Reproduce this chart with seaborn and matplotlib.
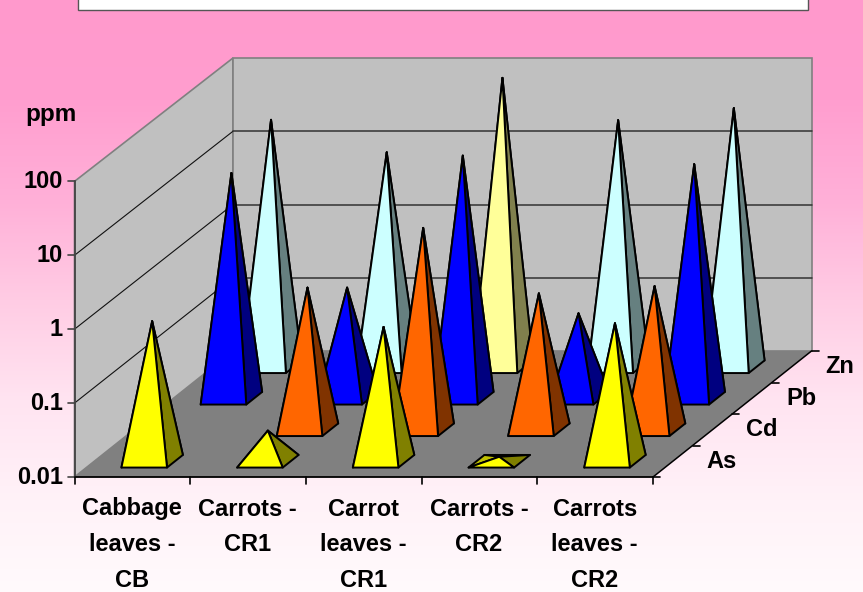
import numpy as np
import seaborn as sns
import matplotlib.pyplot as plt
from matplotlib.patches import Polygon, Rectangle

# Heavy metals by sample, log axis
samples = ["Cabbage\nleaves -\nCB", "Carrots -\nCR1", "Carrot\nleaves -\nCR1", "Carrots -\nCR2", "Carrots\nleaves -\nCR2"]
metals = ["As", "Cd", "Pb", "Zn"]
as_ppm = [0.79, 0.026, 0.66, 0.0115, 0.74]
cd_ppm = [None, 0.85, 5.5, 0.71, 0.89]
pb_ppm = [11.6, 0.32, 20, 0.143, 15.3]
zn_ppm = [23.3, 8.4, 87, 23, 33.6]
values = [as_ppm, cd_ppm, pb_ppm, zn_ppm]
y_ticks = [0.01, 0.1, 1, 10, 100]
y_labels = ["0.01", "0.1", "1", "10", "100"]

fronts = sns.color_palette(["#FFFF00", "#FF6600", "#0000FF", "#CCFFFF"])
sides = sns.color_palette(["#808000", "#803300", "#000080", "#668080"])
odd_front, odd_side = "#FFFF99", "#80804D"  # Zn bar of carrot leaves CR1

sns.set_theme(style="white")
plt.rcParams["font.family"] = ["Liberation Sans", "DejaVu Sans"]

fig = plt.figure(figsize=(8.63, 5.92), dpi=100)
ax = fig.add_axes([0, 0, 1, 1])
ax.axis("off")

# oblique box: cat along x, depth back into the page, log10 value up
x0, y0 = 74.5, 477
cat_w = (653 - x0) / len(samples)
dep_x, dep_y = 158.5 / len(metals), -126 / len(metals)


def proj(cat, dep, val):
    d = dep / len(metals)
    scale = 73.9 - 0.65 * d
    dec = np.log10(val) - np.log10(y_ticks[0])
    return (x0 + cat * cat_w + dep * dep_x, y0 + dep * dep_y - dec * scale)


# background, pink fading down
rows = np.arange(592)
green = np.interp(rows, [0, 100, 200, 300, 400, 500, 592], [153, 158, 176, 204, 228, 242, 250]) / 255
blue = np.interp(rows, [0, 100, 200, 300, 400, 500, 592], [204, 207, 216, 228, 241, 248, 252]) / 255
grad = np.dstack([np.ones(592), green, blue]).reshape(592, 1, 3)
ax.imshow(grad, extent=[0, 863, 592, 0], aspect="auto", zorder=0)
ax.set_xlim(0, 863)
ax.set_ylim(592, 0)

# title box, cut off at the top of the picture
ax.add_patch(Rectangle((77.5, -5), 730.5, 15, fc="white", ec="#555555", lw=1, zorder=1))

nc, nd = len(samples), len(metals)
lo, top = y_ticks[0], y_ticks[-1]
wall_edge = "#808080"
ax.add_patch(Polygon([proj(0, 0, lo), proj(0, nd, lo), proj(0, nd, top), proj(0, 0, top)], fc="#C0C0C0", ec=wall_edge, lw=1.2, zorder=2))
ax.add_patch(Polygon([proj(0, nd, lo), proj(nc, nd, lo), proj(nc, nd, top), proj(0, nd, top)], fc="#C0C0C0", ec=wall_edge, lw=1.2, zorder=2))
ax.add_patch(Polygon([proj(0, 0, lo), proj(nc, 0, lo), proj(nc, nd, lo), proj(0, nd, lo)], fc="#808080", ec="none", zorder=2))

# grid on both walls
for t in y_ticks[1:-1]:
    a, b, c = proj(0, 0, t), proj(0, nd, t), proj(nc, nd, t)
    ax.plot([a[0], b[0]], [a[1], b[1]], color="#111111", lw=0.8, zorder=3)
    ax.plot([b[0], c[0]], [b[1], c[1]], color="#333333", lw=1.1, zorder=3)

# axis lines and ticks
ax.plot([x0, x0], [proj(0, 0, lo)[1], proj(0, 0, top)[1]], color="#444444", lw=1.3, zorder=3)
ax.plot([x0, 653], [y0, y0], color="black", lw=1.3, zorder=3)
a, b = proj(nc, 0, lo), proj(nc, nd, lo)
ax.plot([a[0], b[0]], [a[1], b[1]], color="black", lw=1.1, zorder=3)
for t, lab in zip(y_ticks, y_labels):
    px, py = proj(0, 0, t)
    ax.plot([px - 7, px], [py, py], color="#444444", lw=1.2, zorder=3)
    ax.text(63, py + 0.5, lab, ha="right", va="center", fontsize=17, fontweight="bold", color="black", zorder=60)
for i in range(nc + 1):
    px, py = proj(i, 0, lo)
    ax.plot([px, px], [py, py + 7], color="black", lw=1.2, zorder=3)
for i in range(nd + 1):
    px, py = proj(nc, i, lo)
    ax.plot([px, px + 7], [py, py], color="black", lw=1.2, zorder=3)

ax.text(51, 115, "ppm", ha="center", va="center", fontsize=17.5, fontweight="bold", color="black", zorder=60)
for i, lab in enumerate(samples):
    ax.text(proj(i + 0.5, 0, lo)[0] - 0.5, 497.5, lab, ha="center", va="top", fontsize=17, fontweight="bold", color="black", linespacing=1.7, zorder=60)
for i, lab in enumerate(metals):
    px, py = proj(nc, i + 0.5, lo)
    ax.text(px + 34, py, lab, ha="left", va="center", fontsize=17, fontweight="bold", color="black", zorder=60)

# pyramids, back row first so the nearer ones overlap
gap = 0.197
dgap = 0.2
z = 10
for j in range(nd - 1, -1, -1):
    for i in range(nc):
        v = values[j][i]
        if v is None:
            continue
        fc, sc = fronts[j], sides[j]
        if j == 3 and i == 2:
            fc, sc = odd_front, odd_side
        cx, cz = i + 0.5, j + 0.5
        fl = proj(cx - gap, cz - dgap, lo)
        fr = proj(cx + gap, cz - dgap, lo)
        br = proj(cx + gap, cz + dgap, lo)
        bl = proj(cx - gap, cz + dgap, lo)
        apex = proj(cx, cz, v)
        for pts, col in [((bl, br), "#C0C000" if j == 0 else sc), ((fl, bl), "#C0C000" if j == 0 else fc), ((fr, br), sc), ((fl, fr), fc)]:
            ax.add_patch(Polygon([pts[0], pts[1], apex], fc=col, ec="black", lw=1.4, joinstyle="round", zorder=z))
            z += 1

fig.savefig("out.png", dpi=100)
